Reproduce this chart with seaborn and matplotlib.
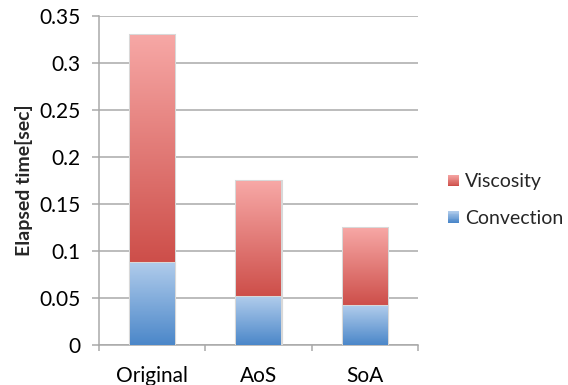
import numpy as np
import pandas as pd
import matplotlib
matplotlib.use("Agg")
import matplotlib.pyplot as plt
import seaborn as sns
from matplotlib.colors import LinearSegmentedColormap
from matplotlib.legend_handler import HandlerBase
from matplotlib.patches import Rectangle, Patch

# Elapsed time per data layout, split by kernel
versions = ["Original", "AoS", "SoA"]
convection = [0.087, 0.051, 0.041]
viscosity = [0.243, 0.123, 0.083]
y_ticks = [0, 0.05, 0.1, 0.15, 0.2, 0.25, 0.3, 0.35]
y_tick_labels = ["0", "0.05", "0.1", "0.15", "0.2", "0.25", "0.3", "0.35"]

RED_LIGHT, RED_DARK = "#F7A8A6", "#CD4E49"
BLUE_LIGHT, BLUE_DARK = "#AFCBEB", "#4B87C9"
GRID = "#A9A9A9"

sns.set_theme(style="white")
plt.rcParams["font.family"] = ["Lato", "DejaVu Sans"]

df = pd.DataFrame({"version": versions, "Convection": convection, "Viscosity": viscosity})
df["total"] = df["Convection"] + df["Viscosity"]

fig = plt.figure(figsize=(5.68, 3.85), dpi=100)
ax = fig.add_axes([99 / 568, 40 / 385, 319 / 568, 329 / 385])
ax.set_axisbelow(True)

bar_w = 0.414
sns.barplot(data=df, x="version", y="total", ax=ax, width=bar_w, color=RED_DARK,
            saturation=1, edgecolor="#D8D8D8", linewidth=2.2, zorder=2)
sns.barplot(data=df, x="version", y="Convection", ax=ax, width=bar_w, color=BLUE_DARK,
            saturation=1, edgecolor="#D8D8D8", linewidth=2.2, zorder=3)

grad = np.linspace(0, 1, 256).reshape(-1, 1)
red_cmap = LinearSegmentedColormap.from_list("red_grad", [RED_DARK, RED_LIGHT])
blue_cmap = LinearSegmentedColormap.from_list("blue_grad", [BLUE_DARK, BLUE_LIGHT])

patches = list(ax.patches)
n = len(versions)
for i, p in enumerate(patches[:n]):
    x0, w = p.get_x(), p.get_width()
    lo, hi = convection[i], convection[i] + viscosity[i]
    im = ax.imshow(grad, cmap=red_cmap, origin="lower", aspect="auto",
                   extent=[x0, x0 + w, lo, hi], zorder=2.5, interpolation="bilinear")
    im.set_clip_path(p)
for i, p in enumerate(patches[n:2 * n]):
    x0, w = p.get_x(), p.get_width()
    im = ax.imshow(grad, cmap=blue_cmap, origin="lower", aspect="auto",
                   extent=[x0, x0 + w, 0, convection[i]], zorder=3.5, interpolation="bilinear")
    im.set_clip_path(p)

ax.set_xlim(-0.5, 2.5)
ax.set_ylim(0, 0.35)

ax.set_yticks(y_ticks)
ax.set_yticklabels(y_tick_labels)
ax.yaxis.grid(True, color=GRID, linewidth=1.1)
ax.tick_params(axis="y", which="major", left=True, length=5, width=1.1, color=GRID,
               pad=8.5, labelsize=15, labelcolor="black")

ax.set_xticks(range(n))
ax.set_xticklabels(versions)
ax.set_xticks([-0.5, 0.5, 1.5, 2.5], minor=True)
ax.tick_params(axis="x", which="major", length=0, pad=15, labelsize=15, labelcolor="black")
ax.tick_params(axis="x", which="minor", bottom=True, length=4.5, width=1.1, color=GRID)

for side in ["top", "right"]:
    ax.spines[side].set_visible(False)
for side in ["left", "bottom"]:
    ax.spines[side].set_color(GRID)
    ax.spines[side].set_linewidth(1.1)

ax.set_xlabel("")
ax.set_ylabel("Elapsed time[sec]", fontsize=14, fontweight="bold", labelpad=4)


class GradientSquare(HandlerBase):
    def __init__(self, light, dark, strips=14):
        super().__init__()
        self.cmap = LinearSegmentedColormap.from_list("sq", [dark, light])
        self.strips = strips

    def create_artists(self, legend, orig_handle, xdescent, ydescent, width, height,
                       fontsize, trans):
        side = min(width, height)
        x0 = -xdescent
        y0 = -ydescent + (height - side) / 2
        h = side / self.strips
        arts = []
        for k in range(self.strips):
            r = Rectangle((x0, y0 + k * h), side, h * 1.05,
                          facecolor=self.cmap(k / (self.strips - 1)), edgecolor="none",
                          transform=trans)
            arts.append(r)
        return arts


h_visc = Patch(label="Viscosity")
h_conv = Patch(label="Convection")
fig.legend(handles=[h_visc, h_conv], loc="center left",
           bbox_to_anchor=(430 / 568, 185 / 385), frameon=False, fontsize=14,
           handlelength=0.6, handleheight=0.6, handletextpad=0.3, labelspacing=1.0,
           handler_map={h_visc: GradientSquare(RED_LIGHT, RED_DARK),
                        h_conv: GradientSquare(BLUE_LIGHT, BLUE_DARK)})

fig.savefig("out.png", dpi=100)
